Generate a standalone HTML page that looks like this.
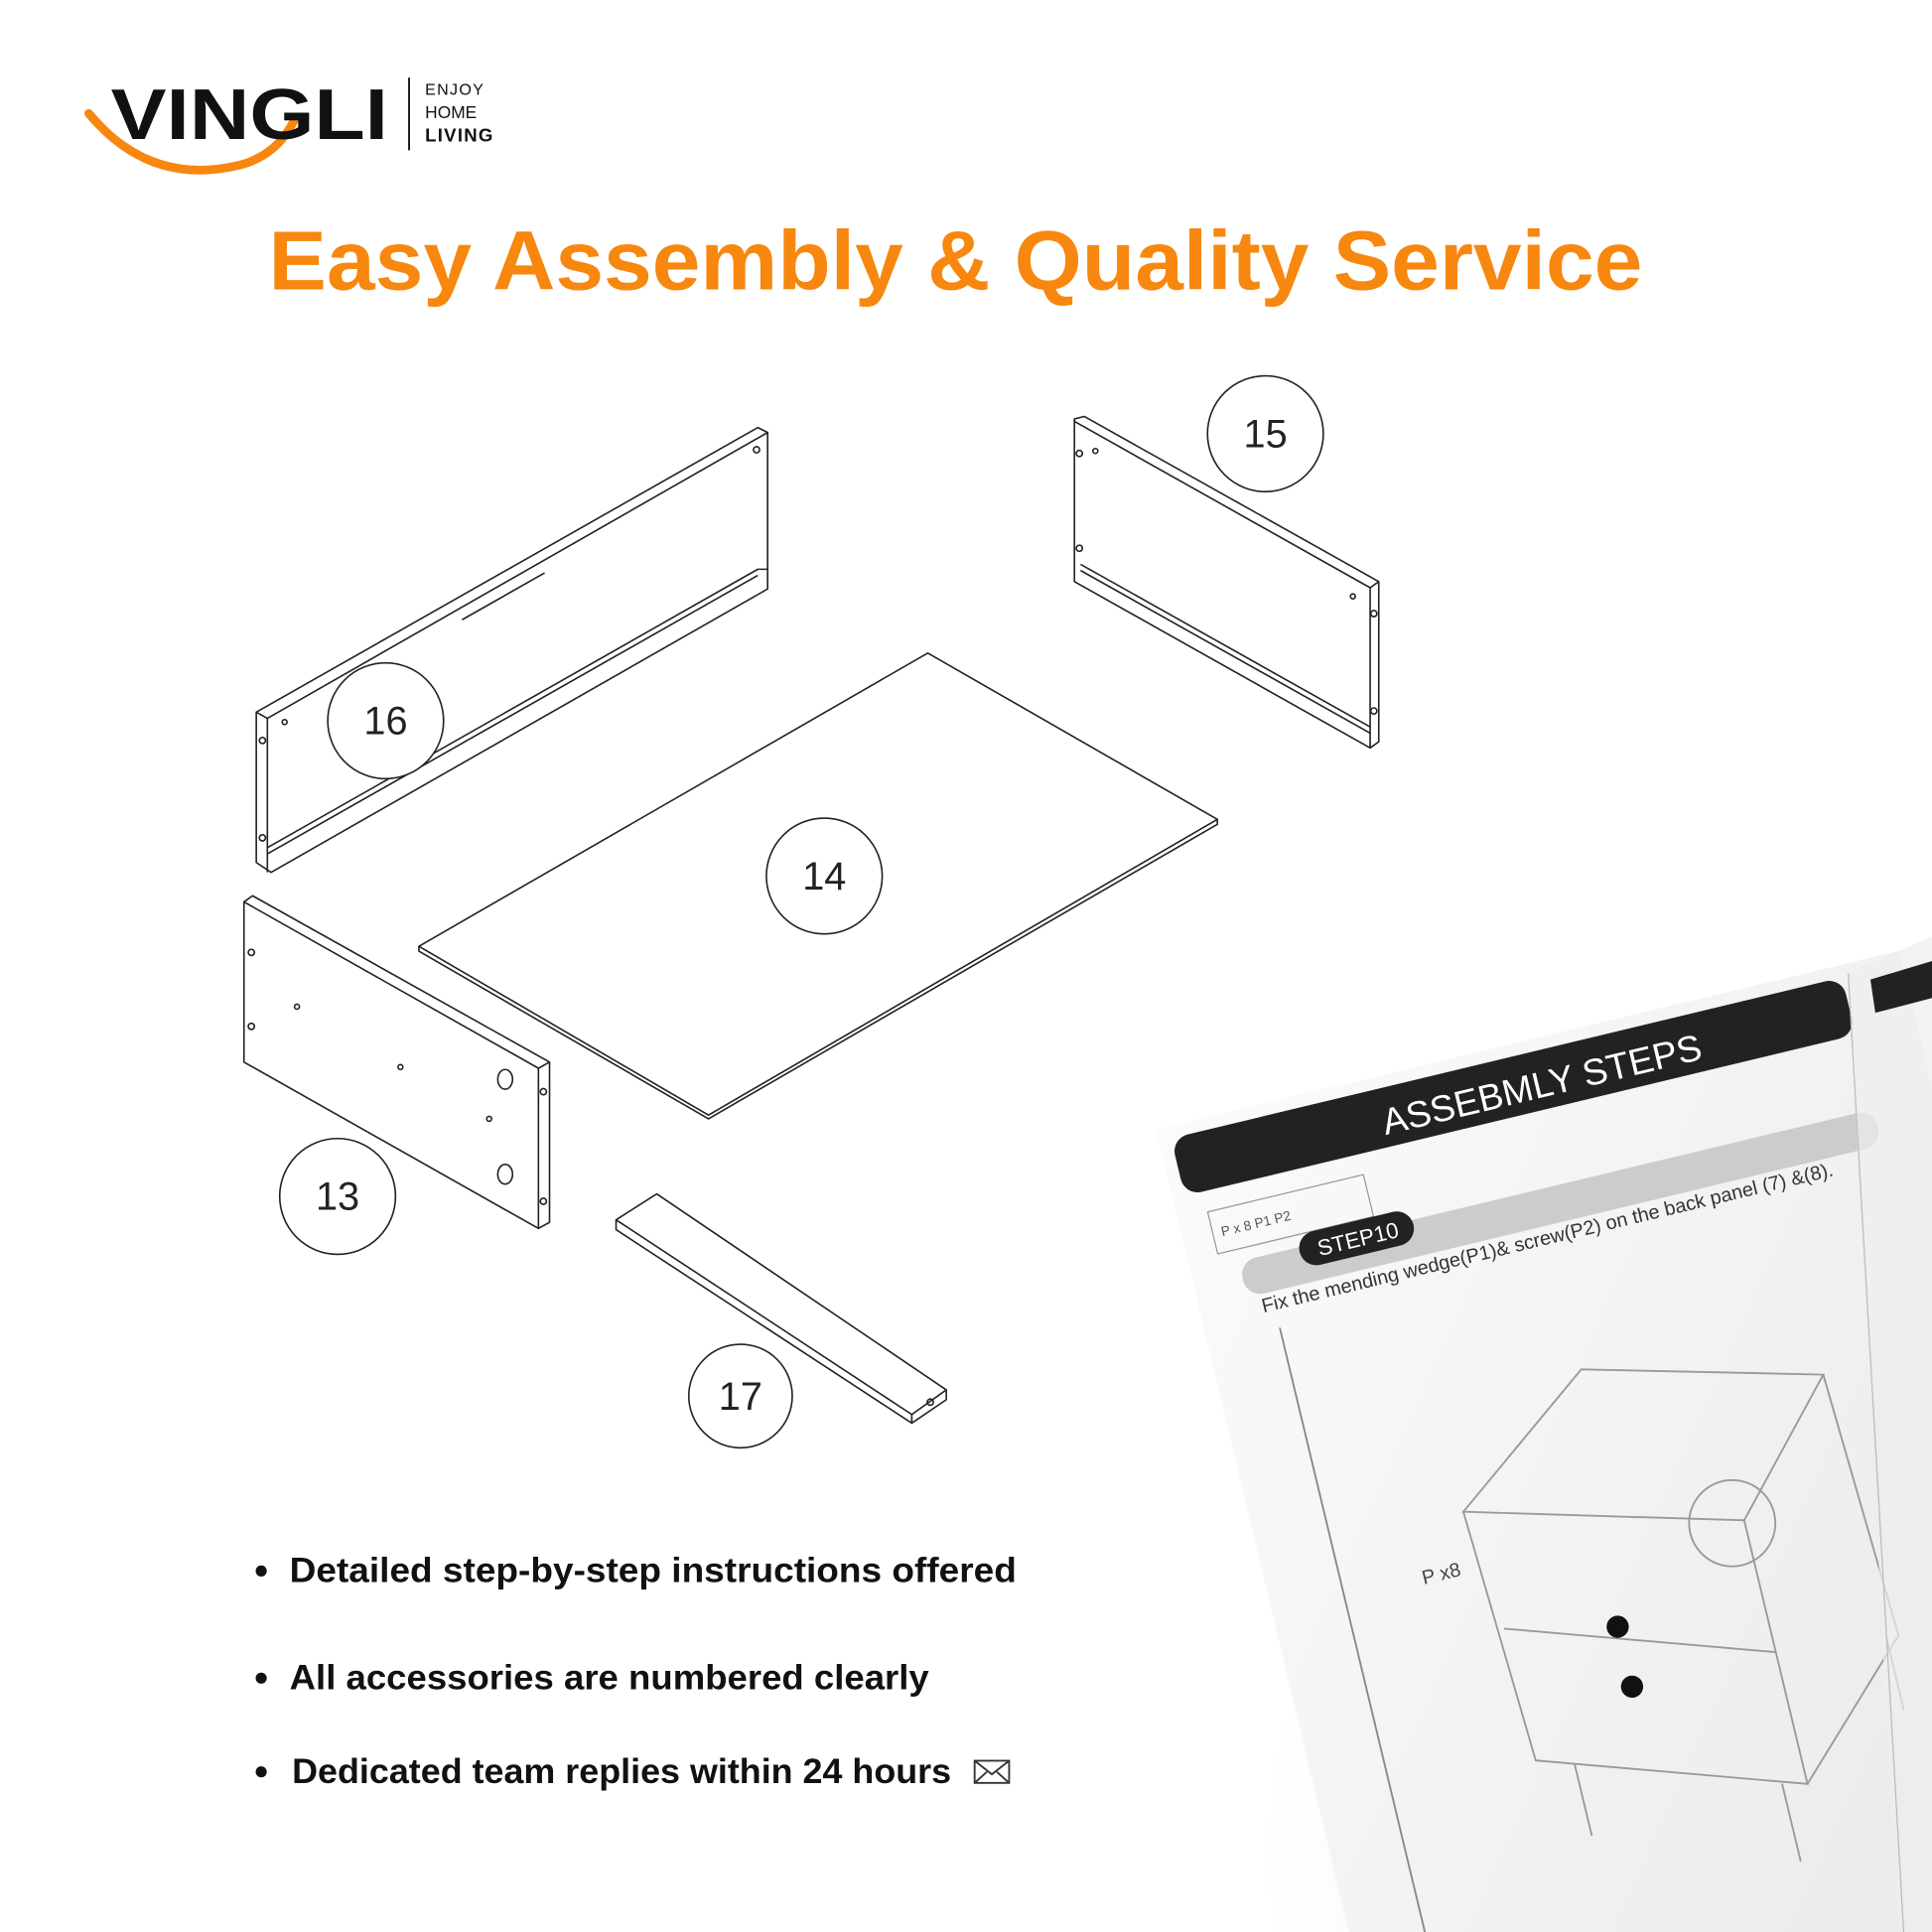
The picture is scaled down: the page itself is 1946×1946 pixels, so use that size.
<!DOCTYPE html>
<html><head><meta charset="utf-8"><style>html,body{margin:0;padding:0;background:#fff;overflow:hidden;width:1946px;height:1946px}svg{display:block}</style></head>
<body>
<svg width="1946" height="1946" viewBox="0 0 1568 1568" xmlns="http://www.w3.org/2000/svg" font-family="Liberation Sans, sans-serif">
<defs>
<radialGradient id="sh" cx="0.75" cy="0.8" r="0.6">
<stop offset="0" stop-color="#d8d8d8"/><stop offset="0.6" stop-color="#ececec"/><stop offset="1" stop-color="#fff" stop-opacity="0"/>
</radialGradient>
<linearGradient id="pg" x1="0" y1="0" x2="1" y2="1">
<stop offset="0" stop-color="#fbfbfb"/><stop offset="1" stop-color="#e8e8e8"/>
</linearGradient>
<clipPath id="cp"><rect width="1568" height="1568"/></clipPath>
</defs>
<rect width="1568" height="1568" fill="#fff"/>
<path d="M72,92 Q120,150 190,135 Q225,128 240,95" fill="none" stroke="#f7870f" stroke-width="7" stroke-linecap="round"/>
<text x="90" y="113" font-size="58" font-weight="bold" fill="#111" textLength="225" lengthAdjust="spacingAndGlyphs">VINGLI</text>
<line x1="332" y1="63" x2="332" y2="122" stroke="#111" stroke-width="1.5"/>
<text x="345" y="77" font-size="13" fill="#111" letter-spacing="1">ENJOY</text>
<text x="345" y="96" font-size="14" fill="#111">HOME</text>
<text x="345" y="115" font-size="15" fill="#111" font-weight="bold" letter-spacing="1">LIVING</text>
<text x="218" y="235" font-size="68" font-weight="bold" fill="#f7870f" textLength="1115" lengthAdjust="spacingAndGlyphs">Easy Assembly  &amp; Quality Service</text>
<g clip-path="url(#cp)">
<ellipse cx="1330" cy="1250" rx="470" ry="420" fill="url(#sh)"/>
<g transform="translate(65,-40) rotate(-13.5 1230 1200)">
<rect x="940" y="880" width="620" height="800" fill="url(#pg)"/>
<rect x="950" y="890" width="560" height="48" rx="14" fill="#222"/>
<text x="1120" y="928" font-size="30" fill="#fff">ASSEBMLY STEPS</text>
<rect x="965" y="955" width="130" height="35" fill="none" stroke="#999"/>
<text x="972" y="977" font-size="11" fill="#555">P x 8   P1  P2</text>
<rect x="980" y="1000" width="530" height="30" rx="14" fill="#ccc"/>
<rect x="1030" y="990" width="95" height="28" rx="14" fill="#222"/>
<text x="1045" y="1011" font-size="18" fill="#fff">STEP10</text>
<text x="990" y="1045" font-size="16" fill="#333">Fix the mending wedge(P1)&amp; screw(P2) on the back panel (7) &amp;(8).</text>
<line x1="1000" y1="1060" x2="1000" y2="1680" stroke="#888" stroke-width="1.5"/>
<g fill="none" stroke="#999" stroke-width="1.5">
<path d="M1110,1240 L1230,1150 L1420,1200 L1330,1300 Z"/>
<path d="M1110,1240 L1120,1450 L1330,1520 L1330,1300"/>
<path d="M1420,1200 L1430,1420 L1330,1520"/>
<path d="M1120,1340 L1330,1410"/>
<circle cx="1320" cy="1300" r="35"/>
<path d="M1150,1460 L1150,1520 M1310,1515 L1310,1580 M1420,1420 L1420,1480"/>
</g>
<circle cx="1210" cy="1360" r="9" fill="#111"/><circle cx="1210" cy="1410" r="9" fill="#111"/>
<text x="1065" y="1290" font-size="16" fill="#444">P x8</text>
</g>
<path d="M1500,790 L1568,760 L1568,1568 L1540,1568 Z" fill="#eee" opacity="0.7"/>
<line x1="1500" y1="790" x2="1545" y2="1568" stroke="#bbb"/>
<path d="M1518,795 L1568,780 L1568,810 L1522,822 Z" fill="#222"/>
</g>
<g fill="none" stroke="#222" stroke-width="1.3" stroke-linejoin="round">
<path d="M208,578 L615,347 L623,351 L623,478 L220,708 L208,700 Z"/>
<path d="M208,578 L217,583 L623,351"/>
<path d="M217,583 L217,708"/>
<path d="M217,688 L615,462 L623,462"/>
<path d="M217,693 L615,467"/>
<path d="M375,503 L442,465"/>
<circle cx="614" cy="365" r="2.5"/><circle cx="231" cy="586" r="2"/><circle cx="213" cy="601" r="2.5"/><circle cx="213" cy="680" r="2.5"/>
<path d="M872,340 L880,338 L1119,472 L1119,602 L1112,607 L872,472 Z"/>
<path d="M872,340 L872,342 L1112,477 L1119,472"/>
<path d="M1112,477 L1112,607"/>
<path d="M877,458 L1112,590 M877,463 L1112,595"/>
<circle cx="876" cy="368" r="2.5"/><circle cx="889" cy="366" r="2"/><circle cx="876" cy="445" r="2.5"/><circle cx="1098" cy="484" r="2"/><circle cx="1115" cy="498" r="2.5"/><circle cx="1115" cy="577" r="2.5"/>
<path d="M340,768 L753,530 L988,665 L575,905 Z"/>
<path d="M340,768 L340,772 L575,908 L988,669 L988,665"/>
<path d="M198,732 L205,727 L446,862 L446,992 L437,997 L198,862 Z"/>
<path d="M198,732 L437,867 L446,862 M437,867 L437,997"/>
<circle cx="204" cy="773" r="2.5"/><circle cx="204" cy="833" r="2.5"/><circle cx="241" cy="817" r="2"/><circle cx="325" cy="866" r="2"/><circle cx="397" cy="908" r="2"/>
<ellipse cx="410" cy="876" rx="6" ry="8"/><ellipse cx="410" cy="953" rx="6" ry="8"/>
<circle cx="441" cy="886" r="2.5"/><circle cx="441" cy="975" r="2.5"/>
<path d="M500,990 L533,969 L768,1128 L768,1136 L740,1155 L500,998 Z"/>
<path d="M500,990 L740,1148 L768,1128 M740,1148 L740,1155"/>
<circle cx="755" cy="1138" r="2.5"/>
</g>
<g fill="#fff" stroke="#222" stroke-width="1.3">
<circle cx="1027" cy="352" r="47"/><circle cx="313" cy="585" r="47"/><circle cx="669" cy="711" r="47"/><circle cx="274" cy="971" r="47"/><circle cx="601" cy="1133" r="42"/>
</g>
<g font-size="32" fill="#222" text-anchor="middle">
<text x="1027" y="363">15</text><text x="313" y="596">16</text><text x="669" y="722">14</text><text x="274" y="982">13</text><text x="601" y="1144">17</text>
</g>
<g font-size="28" font-weight="bold" fill="#111">
<circle cx="212" cy="1275" r="4.5"/><text x="235" y="1284" textLength="590" lengthAdjust="spacingAndGlyphs">Detailed step-by-step instructions offered</text>
<circle cx="212" cy="1362" r="4.5"/><text x="235" y="1371" textLength="519" lengthAdjust="spacingAndGlyphs">All accessories are numbered clearly</text>
<circle cx="212" cy="1438" r="4.5"/><text x="237" y="1447" textLength="535" lengthAdjust="spacingAndGlyphs">Dedicated team replies within 24 hours</text>
</g>
<g fill="none" stroke="#333" stroke-width="1.5"><rect x="791" y="1429" width="28" height="18"/><path d="M791,1429 L805,1440 L819,1429 M791,1447 L801,1438 M819,1447 L809,1438"/></g>
</svg>
</body></html>
